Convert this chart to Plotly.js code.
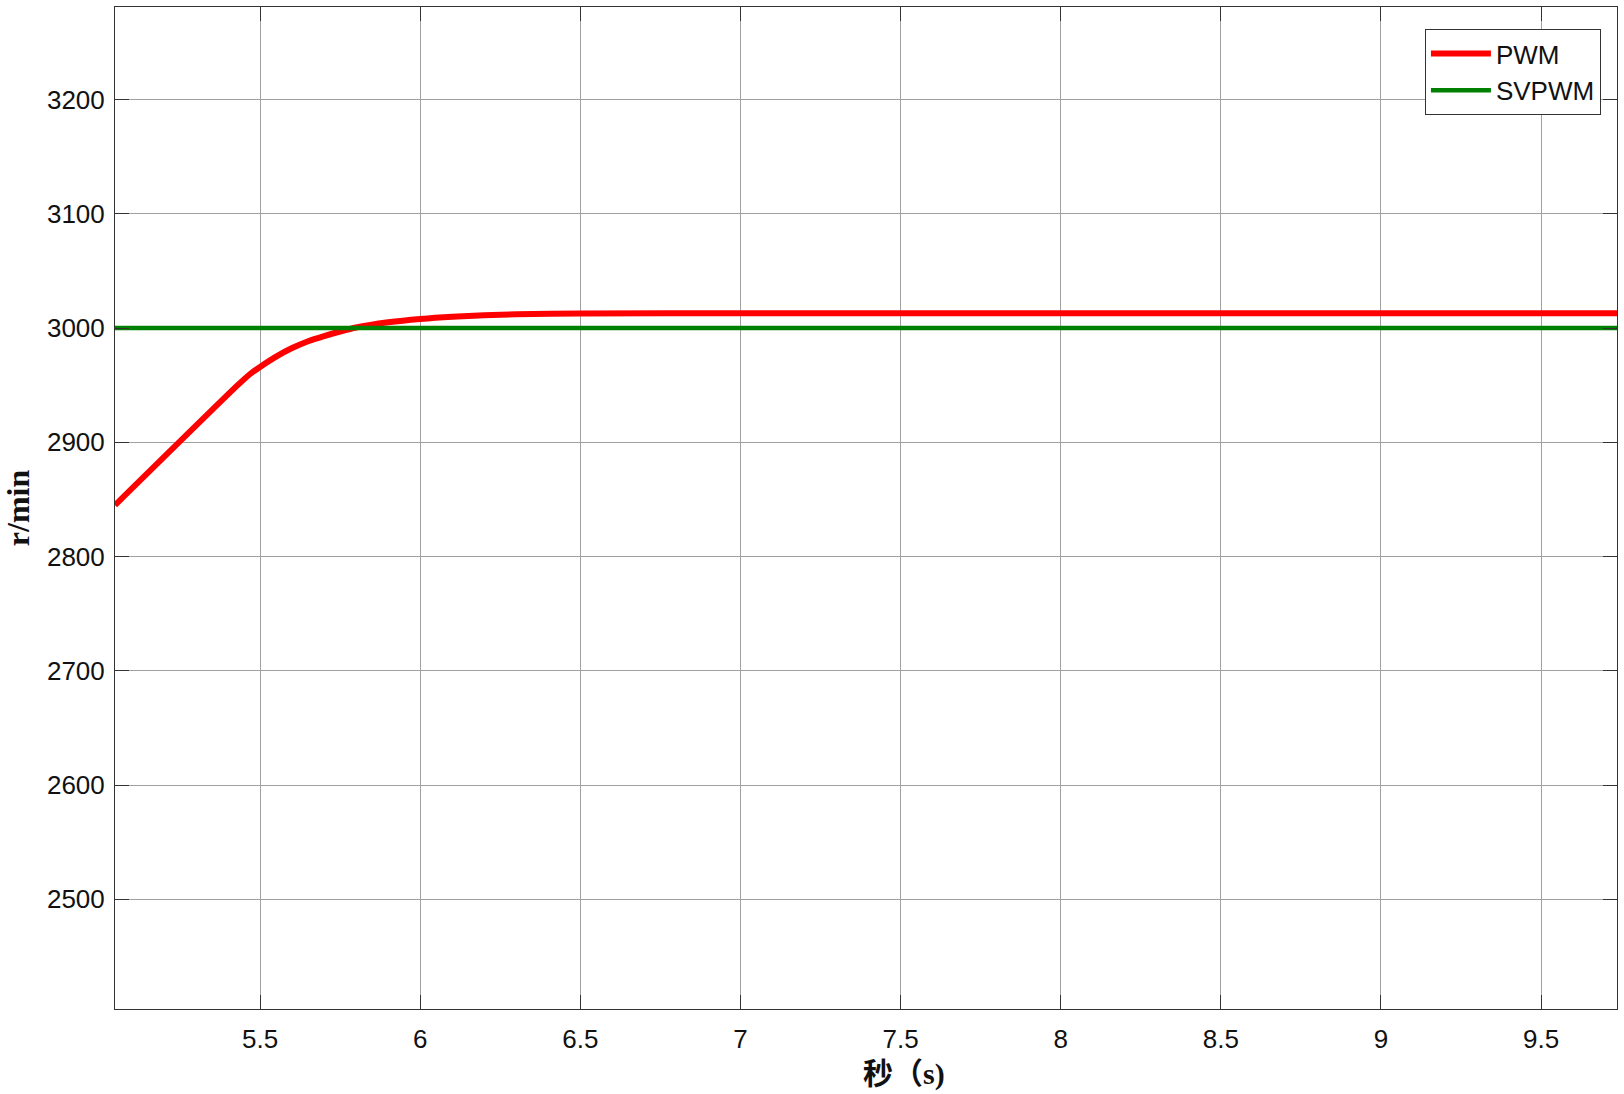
<!DOCTYPE html>
<html>
<head>
<meta charset="utf-8">
<script src="https://cdn.plot.ly/plotly-3.0.1.min.js"></script>
<style>html,body{margin:0;padding:0;background:#fff;}#chart{width:1624px;height:1094px;}</style>
</head>
<body>
<div id="chart"></div>
<script>
// Time (s) and speed (r/min)
const pwmTime  = [5.047, 5.43, 5.47, 5.5, 5.55, 5.6, 5.65, 5.7, 5.75, 5.8, 5.9, 6.0, 6.1, 6.2, 6.3, 6.5, 7.0, 8.0, 9.0, 9.737];
const pwmSpeed = [2845, 2950, 2960, 2966, 2975, 2982.5, 2988.5, 2993, 2997, 3000.5, 3005, 3008, 3010, 3011.2, 3012, 3012.7, 3013, 3013, 3013, 3013];
const svpwmTime  = [5.047, 6.0, 7.0, 8.0, 9.0, 9.737];
const svpwmSpeed = [3000, 3000, 3000, 3000, 3000, 3000];
const seriesNames = ['PWM', 'SVPWM'];
const xTicks = [5.5, 6, 6.5, 7, 7.5, 8, 8.5, 9, 9.5];
const yTicks = [2500, 2600, 2700, 2800, 2900, 3000, 3100, 3200];
const xTitle = '秒（s)';
const yTitle = 'r/min';

const traces = [
  {x: pwmTime, y: pwmSpeed, name: seriesNames[0], type: 'scatter', mode: 'lines',
   line: {color: '#ff0000', width: 6, shape: 'spline', smoothing: 0.6}},
  {x: svpwmTime, y: svpwmSpeed, name: seriesNames[1], type: 'scatter', mode: 'lines',
   line: {color: '#008000', width: 4.5}}
];

const axisCommon = {
  showline: true, linecolor: '#333333', linewidth: 1, mirror: 'allticks',
  ticks: 'inside', ticklen: 14, tickwidth: 1, tickcolor: '#333333',
  showgrid: true, gridcolor: '#a0a0a0', gridwidth: 1, zeroline: false,
  tickfont: {family: 'Arial, Liberation Sans, sans-serif', size: 26, color: '#111'}
};

const layout = {
  width: 1624, height: 1094,
  margin: {l: 115, r: 7, t: 7, b: 85},
  paper_bgcolor: '#ffffff', plot_bgcolor: '#ffffff',
  showlegend: true,
  legend: {
    x: 0.9893, y: 0.978, xanchor: 'right', yanchor: 'top',
    bgcolor: '#ffffff', bordercolor: '#333333', borderwidth: 1,
    font: {family: 'Arial, Liberation Sans, sans-serif', size: 26, color: '#111'},
    itemwidth: 60, tracegroupgap: 0
  },
  xaxis: Object.assign({}, axisCommon, {
    range: [5.047, 9.737], tickvals: xTicks, ticktext: xTicks.map(String),
    ticklabelstandoff: 7,
    title: {text: ''}
  }),
  yaxis: Object.assign({}, axisCommon, {
    range: [2404, 3281], tickvals: yTicks, ticktext: yTicks.map(String),
    ticklabelstandoff: 4,
    title: {text: '<b>' + yTitle + '</b>', standoff: 12,
            font: {family: 'Liberation Serif, Times New Roman, serif', size: 32, color: '#111'}}
  }),
  annotations: [{
    text: '<b>' + xTitle + '</b>', xref: 'paper', yref: 'paper',
    x: (904 - 115) / 1502, y: -(1074 - 1009) / 1002, xanchor: 'center', yanchor: 'middle',
    showarrow: false,
    font: {family: 'Liberation Serif, Noto Sans CJK SC, serif', size: 30, color: '#111'}
  }]
};

Plotly.newPlot('chart', traces, layout, {displayModeBar: false, staticPlot: true});
</script>
</body>
</html>
